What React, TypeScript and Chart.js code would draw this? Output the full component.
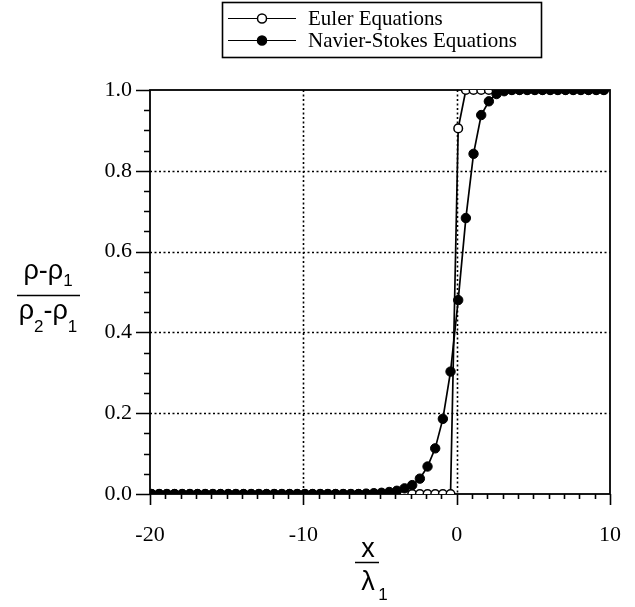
import React, { useEffect, useRef } from "react";
import { Chart, registerables } from "chart.js";

Chart.register(...registerables);

// Sample positions x / λ1 along the shock profile
const positions = [
  -19.9, -19.4, -18.9, -18.4, -17.9, -17.4, -16.9, -16.4, -15.9, -15.4,
  -14.9, -14.4, -13.9, -13.4, -12.9, -12.4, -11.9, -11.4, -10.9, -10.4,
  -9.9, -9.4, -8.9, -8.4, -7.9, -7.4, -6.9, -6.4, -5.9, -5.4,
  -4.9, -4.4, -3.9, -3.4, -2.9, -2.4, -1.9, -1.4, -0.9, -0.4,
  0.1, 0.6, 1.1, 1.6, 2.1, 2.6, 3.1, 3.6, 4.1, 4.6,
  5.1, 5.6, 6.1, 6.6, 7.1, 7.6, 8.1, 8.6, 9.1, 9.6,
];

// Normalised density (ρ-ρ1)/(ρ2-ρ1), Euler solution
const eulerDensity = [
  0, 0, 0, 0, 0, 0, 0, 0, 0, 0,
  0, 0, 0, 0, 0, 0, 0, 0, 0, 0,
  0, 0, 0, 0, 0, 0, 0, 0, 0, 0,
  0, 0, 0, 0, 0, 0, 0, 0, 0, 0,
  0.905, 1, 1, 1, 1, 1, 1, 1, 1, 1,
  1, 1, 1, 1, 1, 1, 1, 1, 1, 1,
];

// Normalised density, Navier-Stokes solution
const navierStokesDensity = [
  0, 0, 0, 0, 0, 0, 0, 0, 0, 0,
  0, 0, 0, 0, 0, 0, 0, 0, 0, 0,
  0, 0, 0, 0, 0, 0, 0, 0, 0.001, 0.002,
  0.003, 0.005, 0.008, 0.014, 0.022, 0.038, 0.068, 0.113, 0.186, 0.303,
  0.48, 0.683, 0.842, 0.938, 0.972, 0.99, 0.997, 1, 1, 1,
  1, 1, 1, 1, 1, 1, 1, 1, 1, 1,
];

const seriesNames = ["Euler Equations", "Navier-Stokes Equations"];

const xRange = { min: -20, max: 10, step: 10, minorStep: 1 };
const yRange = { min: 0, max: 1, step: 0.2, minorStep: 0.05 };
const xGridValues = [-10, 0];
const yGridValues = [0.2, 0.4, 0.6, 0.8];

const SERIF = "'Liberation Serif', 'Times New Roman', serif";
const SANS = "'Liberation Sans', Arial, sans-serif";

type Seg = { t: string; size: number; dy: number };

function drawSegs(ctx: CanvasRenderingContext2D, segs: Seg[], x: number, y: number) {
  let cx = x;
  for (const s of segs) {
    ctx.font = `${s.size}px ${SANS}`;
    ctx.fillText(s.t, cx, y + s.dy);
    cx += ctx.measureText(s.t).width;
  }
  return cx - x;
}

function segsWidth(ctx: CanvasRenderingContext2D, segs: Seg[]) {
  let w = 0;
  for (const s of segs) {
    ctx.font = `${s.size}px ${SANS}`;
    w += ctx.measureText(s.t).width;
  }
  return w;
}

const framePlugin = {
  id: "frameAndDecor",
  beforeDatasetsDraw(chart: any) {
    const { ctx, chartArea } = chart;
    const { left, right, top, bottom } = chartArea;
    const xs = chart.scales.x;
    const ys = chart.scales.y;
    ctx.save();
    ctx.strokeStyle = "#000";

    // dotted grid
    ctx.lineWidth = 1.6;
    ctx.setLineDash([2, 2.5]);
    ctx.beginPath();
    for (const v of xGridValues) {
      const px = Math.round(xs.getPixelForValue(v)) + 0.5;
      ctx.moveTo(px, top);
      ctx.lineTo(px, bottom);
    }
    for (const v of yGridValues) {
      const py = Math.round(ys.getPixelForValue(v)) + 0.5;
      ctx.moveTo(left, py);
      ctx.lineTo(right, py);
    }
    ctx.stroke();
    ctx.setLineDash([]);

    // frame
    ctx.lineWidth = 1.8;
    ctx.strokeRect(left, top, right - left, bottom - top);

    // y ticks
    ctx.lineWidth = 1.6;
    ctx.beginPath();
    const ny = Math.round((yRange.max - yRange.min) / yRange.minorStep);
    for (let i = 0; i <= ny; i++) {
      const v = yRange.min + i * yRange.minorStep;
      const major = i % 4 === 0;
      const py = Math.round(ys.getPixelForValue(v)) + 0.5;
      ctx.moveTo(left - (major ? 14 : 6), py);
      ctx.lineTo(left, py);
    }
    // x ticks
    const nx = Math.round((xRange.max - xRange.min) / xRange.minorStep);
    for (let i = 0; i <= nx; i++) {
      const v = xRange.min + i * xRange.minorStep;
      const major = i % 10 === 0;
      const px = Math.round(xs.getPixelForValue(v)) + 0.5;
      ctx.moveTo(px, bottom);
      ctx.lineTo(px, bottom + (major ? 11 : 5));
    }
    ctx.stroke();
    ctx.restore();
  },
  afterDraw(chart: any) {
    const { ctx } = chart;
    ctx.save();
    ctx.fillStyle = "#000";
    ctx.strokeStyle = "#000";
    ctx.textBaseline = "alphabetic";
    ctx.textAlign = "left";

    // y-axis title: (ρ-ρ1)/(ρ2-ρ1)
    const num: Seg[] = [
      { t: "ρ", size: 27, dy: 0 },
      { t: "-", size: 27, dy: 0 },
      { t: "ρ", size: 27, dy: 0 },
      { t: "1", size: 17, dy: 7 },
    ];
    const den: Seg[] = [
      { t: "ρ", size: 27, dy: 0 },
      { t: "2", size: 17, dy: 13 },
      { t: "-", size: 27, dy: 0 },
      { t: "ρ", size: 27, dy: 0 },
      { t: "1", size: 17, dy: 13 },
    ];
    const ycx = 48;
    drawSegs(ctx, num, ycx - segsWidth(ctx, num) / 2, 279);
    ctx.lineWidth = 1.5;
    ctx.beginPath();
    ctx.moveTo(17, 295.5);
    ctx.lineTo(80, 295.5);
    ctx.stroke();
    drawSegs(ctx, den, ycx - segsWidth(ctx, den) / 2, 319);

    // x-axis title: x/λ1
    const xcx = 368;
    ctx.font = `27px ${SANS}`;
    ctx.textAlign = "center";
    ctx.fillText("x", xcx, 557);
    ctx.beginPath();
    ctx.moveTo(355, 562.5);
    ctx.lineTo(379, 562.5);
    ctx.stroke();
    ctx.fillText("λ", xcx, 590);
    ctx.font = `17px ${SANS}`;
    ctx.fillText("1", xcx + 15, 600);

    // legend
    const box = { l: 222, t: 2, r: 541, b: 57 };
    ctx.lineWidth = 1.6;
    ctx.strokeRect(box.l + 0.5, box.t + 0.5, box.r - box.l, box.b - box.t);
    const rows = [18, 40];
    ctx.textAlign = "left";
    ctx.textBaseline = "middle";
    rows.forEach((ry, i) => {
      ctx.lineWidth = 1.2;
      ctx.beginPath();
      ctx.moveTo(228, ry + 0.5);
      ctx.lineTo(296, ry + 0.5);
      ctx.stroke();
      ctx.beginPath();
      ctx.arc(262, ry + 0.5, 4.5, 0, Math.PI * 2);
      ctx.fillStyle = i === 0 ? "#fff" : "#000";
      ctx.fill();
      ctx.lineWidth = 1.5;
      ctx.stroke();
      ctx.fillStyle = "#000";
      ctx.font = `21px ${SERIF}`;
      ctx.fillText(seriesNames[i], 308, ry + 1);
    });
    ctx.restore();
  },
};

export default function App() {
  const canvasRef = useRef<HTMLCanvasElement | null>(null);

  useEffect(() => {
    const canvas = canvasRef.current;
    if (!canvas) return;
    const toPoints = (vals: number[]) => positions.map((x, i) => ({ x, y: vals[i] }));

    const chart = new Chart(canvas, {
      type: "line",
      data: {
        datasets: [
          {
            label: seriesNames[1],
            data: toPoints(navierStokesDensity),
            borderColor: "#000",
            borderWidth: 1.7,
            pointRadius: 4.7,
            pointBackgroundColor: "#000",
            pointBorderColor: "#000",
            pointBorderWidth: 1,
            tension: 0,
          },
          {
            label: seriesNames[0],
            data: toPoints(eulerDensity),
            borderColor: "#000",
            borderWidth: 1.7,
            pointRadius: 4.3,
            pointBackgroundColor: "#fff",
            pointBorderColor: "#000",
            pointBorderWidth: 1.5,
            tension: 0,
          },
        ],
      },
      options: {
        responsive: false,
        animation: false,
        devicePixelRatio: 1,
        layout: { padding: { top: 90, right: 25, left: 0, bottom: 0 } },
        plugins: {
          legend: { display: false },
          tooltip: { enabled: false },
        },
        scales: {
          x: {
            type: "linear",
            min: xRange.min,
            max: xRange.max,
            grid: { display: false, drawTicks: false },
            border: { display: false },
            afterFit: (s: any) => {
              s.height = 113;
              s.paddingLeft = 0;
              s.paddingRight = 0;
            },
            ticks: {
              stepSize: xRange.step,
              autoSkip: false,
              maxRotation: 0,
              padding: 28,
              color: "#000",
              font: { family: SERIF, size: 22 },
              callback: (v: any) => String(v),
            },
          },
          y: {
            type: "linear",
            min: yRange.min,
            max: yRange.max,
            grid: { display: false, drawTicks: false },
            border: { display: false },
            afterFit: (s: any) => {
              s.width = 150;
              s.paddingTop = 0;
              s.paddingBottom = 0;
            },
            ticks: {
              stepSize: yRange.step,
              autoSkip: false,
              padding: 18,
              color: "#000",
              font: { family: SERIF, size: 22 },
              callback: (v: any) => Number(v).toFixed(1),
            },
          },
        },
      },
      plugins: [framePlugin],
    });
    return () => chart.destroy();
  }, []);

  return (
    <div style={{ position: "absolute", left: 0, top: 0, width: 635, height: 607, background: "#fff" }}>
      <canvas ref={canvasRef} width={635} height={607} style={{ width: 635, height: 607, display: "block" }} />
    </div>
  );
}
